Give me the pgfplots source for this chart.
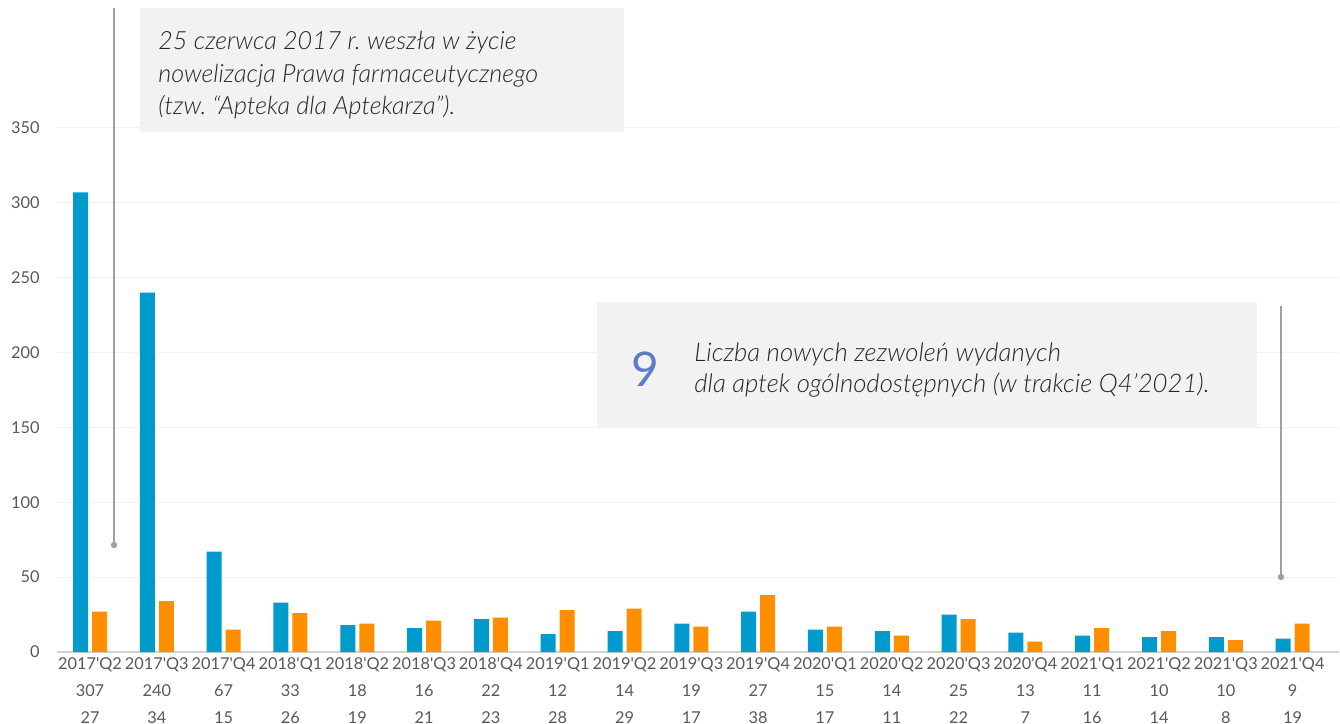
\documentclass[border=0pt]{standalone}
\usepackage{pgfplots}
\pgfplotsset{compat=1.18}
\usepackage{fontspec}
\setmainfont{Lato}
\newfontfamily\annfont{Lato Light Italic}
\definecolor{cblue}{RGB}{0,155,205}
\definecolor{corange}{RGB}{255,143,0}
\definecolor{tickgray}{RGB}{89,89,89}
\definecolor{boxgray}{RGB}{242,242,242}
\definecolor{ninecol}{RGB}{91,125,200}
\definecolor{linegray}{RGB}{160,160,160}
\definecolor{anntext}{RGB}{38,38,38}
\newcommand\q{\textquotesingle}
\frenchspacing
\begin{document}
\begin{tikzpicture}
\useasboundingbox (0,0) rectangle (670bp,362bp);
\begin{axis}[
  at={(28.3bp,36bp)}, anchor=south west,
  scale only axis, width=641.4bp, height=262bp,
  xmin=-0.5, xmax=18.7, ymin=0, ymax=350,
  ybar=2bp, bar width=7.5bp,
  axis line style={draw=none},
  major tick length=0pt,
  ymajorgrids, grid style={color=black!5, line width=0.5bp},
  ytick={0,50,...,350},
  xtick={0,...,18},
  xticklabels={{2017\q Q2\\307\\27},{2017\q Q3\\240\\34},{2017\q Q4\\67\\15},
    {2018\q Q1\\33\\26},{2018\q Q2\\18\\19},{2018\q Q3\\16\\21},{2018\q Q4\\22\\23},
    {2019\q Q1\\12\\28},{2019\q Q2\\14\\29},{2019\q Q3\\19\\17},{2019\q Q4\\27\\38},
    {2020\q Q1\\15\\17},{2020\q Q2\\14\\11},{2020\q Q3\\25\\22},{2020\q Q4\\13\\7},
    {2021\q Q1\\11\\16},{2021\q Q2\\10\\14},{2021\q Q3\\10\\8},{2021\q Q4\\9\\19}},
  xticklabel style={font=\fontsize{8.2}{13.5}\selectfont, align=center, text=tickgray, anchor=north, inner sep=0pt, yshift=-2.5bp},
  yticklabel style={font=\fontsize{8.2}{10}\selectfont, text=tickgray, anchor=east, inner sep=0pt, xshift=-8.3bp},
  /pgf/number format/assume math mode=true,
  clip=false,
]
\draw[color=black!18, line width=0.8bp] (axis cs:-0.5,0) -- (axis cs:18.7,0);
\addplot[fill=cblue, draw=none] coordinates {
 (0,307) (1,240) (2,67) (3,33) (4,18) (5,16) (6,22) (7,12) (8,14) (9,19)
 (10,27) (11,15) (12,14) (13,25) (14,13) (15,11) (16,10) (17,10) (18,9)};
\addplot[fill=corange, draw=none] coordinates {
 (0,27) (1,34) (2,15) (3,26) (4,19) (5,21) (6,23) (7,28) (8,29) (9,17)
 (10,38) (11,17) (12,11) (13,22) (14,7) (15,16) (16,14) (17,8) (18,19)};
\end{axis}
% annotation 1
\fill[boxgray] (70bp,296bp) rectangle (312bp,358bp);
\draw[linegray, line width=0.8bp] (57bp,358bp) -- (57bp,89.5bp);
\fill[linegray] (57bp,89.5bp) circle (1.6bp);
\begin{scope}[every node/.style={anchor=base west, inner sep=0pt, text=anntext, font=\annfont\fontsize{12.6}{14}\selectfont}]
\node at (79bp,337bp) {25 czerwca 2017 r. weszła w życie};
\node at (79bp,320.5bp) {nowelizacja Prawa farmaceutycznego};
\node at (79bp,304.5bp) {(tzw. “Apteka dla Aptekarza”).};
\end{scope}
% annotation 2
\fill[boxgray] (298.5bp,148.5bp) rectangle (628.5bp,211bp);
\draw[linegray, line width=0.8bp] (640.5bp,209bp) -- (640.5bp,73.5bp);
\fill[linegray] (640.5bp,73.5bp) circle (1.6bp);
\node[anchor=base west, inner sep=0pt, text=ninecol, font=\fontsize{24}{26}\selectfont] at (315.5bp,168.5bp) {9};
\begin{scope}[every node/.style={anchor=base west, inner sep=0pt, text=anntext, font=\annfont\fontsize{12.9}{14}\selectfont}]
\node at (347bp,181bp) {Liczba nowych zezwoleń wydanych};
\node at (347bp,165.5bp) {dla aptek ogólnodostępnych (w trakcie Q4’2021).};
\end{scope}
\end{tikzpicture}
\end{document}
